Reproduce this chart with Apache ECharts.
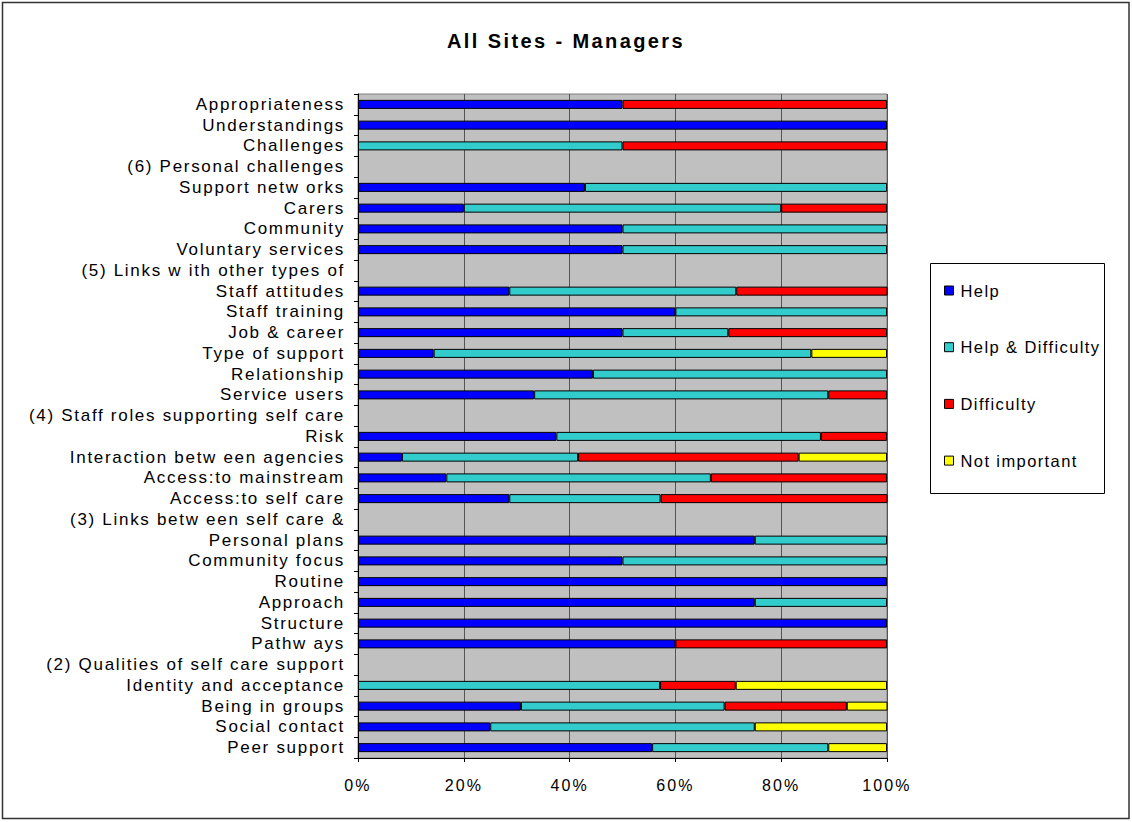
<!DOCTYPE html>
<html>
<head>
<meta charset="utf-8">
<script src="https://cdn.jsdelivr.net/npm/echarts@6/dist/echarts.min.js"></script>
<style>
html, body { margin: 0; padding: 0; background: #fff; }
#chart { width: 1132px; height: 822px; }
#chart text { letter-spacing: 2.1px; }
#chart text[style*="17px"] { letter-spacing: 1.7px; }
#chart text[style*="16.5px"] { letter-spacing: 1.4px; }
#chart text[style*="bold"] { letter-spacing: 2.4px; }
</style>
</head>
<body>
<div id="chart"></div>
<script>
// Categories, top to bottom
const categories = [
  'Appropriateness', 'Understandings', 'Challenges', '(6) Personal challenges',
  'Support netw orks', 'Carers', 'Community', 'Voluntary services',
  '(5) Links w ith other types of', 'Staff attitudes', 'Staff training', 'Job & career',
  'Type of support', 'Relationship', 'Service users', '(4) Staff roles supporting self care',
  'Risk', 'Interaction betw een agencies', 'Access:to mainstream', 'Access:to self care',
  '(3) Links betw een self care &', 'Personal plans', 'Community focus', 'Routine',
  'Approach', 'Structure', 'Pathw ays', '(2) Qualities of self care support',
  'Identity and acceptance', 'Being in groups', 'Social contact', 'Peer support'
];
const seriesNames = ['Help', 'Help & Difficulty', 'Difficulty', 'Not important'];
const help = [50, 100, 0, 0, 42.9, 20, 50, 50, 0, 28.6, 60, 50, 14.3, 44.4, 33.3, 0,
  37.5, 8.3, 16.7, 28.6, 0, 75, 50, 100, 75, 100, 60, 0, 0, 30.8, 25, 55.6];
const helpDifficulty = [0, 0, 50, 0, 57.1, 60, 50, 50, 0, 42.9, 40, 20, 71.4, 55.6, 55.6, 0,
  50, 33.3, 50, 28.6, 0, 25, 50, 0, 25, 0, 0, 0, 57.1, 38.5, 50, 33.3];
const difficulty = [50, 0, 50, 0, 0, 20, 0, 0, 0, 28.6, 0, 30, 0, 0, 11.1, 0,
  12.5, 41.7, 33.3, 42.9, 0, 0, 0, 0, 0, 0, 40, 0, 14.3, 23.1, 0, 0];
const notImportant = [0, 0, 0, 0, 0, 0, 0, 0, 0, 0, 0, 0, 14.3, 0, 0, 0,
  0, 16.7, 0, 0, 0, 0, 0, 0, 0, 0, 0, 0, 28.6, 7.7, 25, 11.1];
const xTicks = [0, 20, 40, 60, 80, 100];

const colors = ['#0000FF', '#33CCCC', '#FF0000', '#FFFF00'];
const values = [help, helpDifficulty, difficulty, notImportant];
const FONT = 'Liberation Sans';

const chart = echarts.init(document.getElementById('chart'), null, { renderer: 'svg' });

const series = seriesNames.map((name, i) => ({
  name: name,
  type: 'bar',
  stack: 'total',
  barWidth: 9,
  data: values[i].map(v => (v === 0 ? '-' : v)),
  itemStyle: { color: colors[i], borderColor: '#000', borderWidth: 1 },
  emphasis: { disabled: true },
  animation: false
}));

chart.setOption({
  animation: false,
  backgroundColor: '#fff',
  title: {
    text: 'All Sites - Managers',
    left: 'center',
    top: 26,
    textStyle: { fontFamily: FONT, fontSize: 20, fontWeight: 'bold', color: '#000' }
  },
  legend: {
    data: seriesNames,
    orient: 'vertical',
    left: 939,
    top: 277,
    itemWidth: 9,
    itemHeight: 9,
    itemGap: 39.7,
    icon: 'rect',
    itemStyle: { borderColor: '#000', borderWidth: 1 },
    textStyle: { fontFamily: FONT, fontSize: 16.5, lineHeight: 16, color: '#000', padding: [0, 0, 0, 2] },
    selectedMode: false
  },
  grid: {
    left: 358,
    top: 94,
    width: 529,
    height: 664,
    show: true,
    backgroundColor: '#C0C0C0',
    borderColor: '#808080',
    borderWidth: 1,
    containLabel: false,
    outerBoundsMode: 'none'
  },
  xAxis: {
    type: 'value',
    min: xTicks[0],
    max: xTicks[xTicks.length - 1],
    interval: 20,
    axisLine: { show: true, lineStyle: { color: '#000', width: 1 } },
    axisTick: { show: true, length: 4, lineStyle: { color: '#000' } },
    splitLine: { show: true, lineStyle: { color: '#555', width: 1 } },
    axisLabel: { formatter: '{value}%', fontFamily: FONT, fontSize: 16, color: '#000', margin: 19 }
  },
  yAxis: {
    type: 'category',
    inverse: true,
    data: categories,
    axisLine: { show: true, lineStyle: { color: '#000', width: 1 } },
    axisTick: { show: true, length: 4, lineStyle: { color: '#000' } },
    splitLine: { show: false },
    axisLabel: { fontFamily: FONT, fontSize: 17, color: '#000', margin: 13, interval: 0 }
  },
  graphic: [
    {
      type: 'rect',
      shape: { x: 2.5, y: 2.5, width: 1126.5, height: 816 },
      style: { fill: 'none', stroke: '#333', lineWidth: 1.5 },
      silent: true
    },
    {
      type: 'rect',
      shape: { x: 930.5, y: 263.5, width: 174, height: 230 },
      style: { fill: 'none', stroke: '#000', lineWidth: 1 },
      silent: true
    }
  ],
  series: series
});
</script>
</body>
</html>
